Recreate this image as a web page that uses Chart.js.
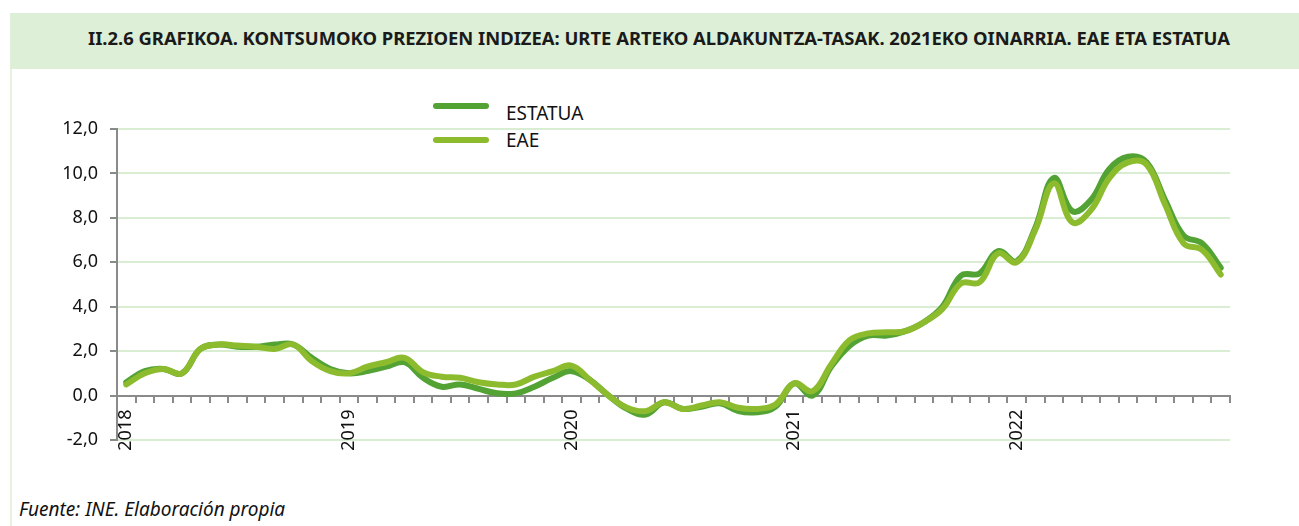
<!DOCTYPE html>
<html>
<head>
<meta charset="utf-8">
<script src="https://cdn.jsdelivr.net/npm/chart.js@4"></script>
<style>
  html, body { margin: 0; padding: 0; background: #fff; }
  #page { position: relative; width: 1299px; height: 526px; overflow: hidden; font-family: "Noto Sans", sans-serif; }
  #band { position: absolute; left: 10px; top: 13px; width: 1289px; height: 56px; background: #ddefd6; }
  #title { position: absolute; left: 0; top: 37px; width: 1318px; text-align: center; transform: translateY(-50%);
           font-weight: bold; color: #1a1a1a; white-space: nowrap; }
  #edge { position: absolute; left: 10px; top: 69px; width: 2px; height: 457px; background: #e6f2dd; }
  .leg-line { position: absolute; left: 433px; width: 56px; height: 6px; border-radius: 3px; }
  .leg-text { position: absolute; left: 506px; font-size: 19px; color: #111; transform: translateY(-50%); }
  #source { position: absolute; left: 19px; top: 509px; transform: translateY(-50%); font-style: italic; font-size: 19px; color: #111; }
  canvas { position: absolute; left: 0; top: 0; }
</style>
</head>
<body>
<div id="page">
  <div id="band"></div>
  <div id="title">II.2.6 GRAFIKOA. KONTSUMOKO PREZIOEN INDIZEA: URTE ARTEKO ALDAKUNTZA-TASAK. 2021EKO OINARRIA. EAE ETA ESTATUA</div>
  <div id="edge"></div>
  <div class="leg-line" style="top:103px; background:#52a234;"></div>
  <div class="leg-text" style="top:113px;">ESTATUA</div>
  <div class="leg-line" style="top:137px; background:#8cbc2e;"></div>
  <div class="leg-text" style="top:140px;">EAE</div>
  <div id="source">Fuente: INE. Elaboración propia</div>
  <canvas id="chart" width="1299" height="526"></canvas>
</div>
<script>
// years shown on the x axis, one category per month
const years = ['2018', '2019', '2020', '2021', '2022'];
const monthsPerYear = 12;

// year-on-year change (%), Jan 2018 .. Dec 2022
const estatua = [
  0.6, 1.1, 1.2, 1.0, 2.1, 2.3, 2.2, 2.2, 2.3, 2.3, 1.7, 1.2,
  1.0, 1.1, 1.3, 1.5, 0.8, 0.4, 0.5, 0.3, 0.1, 0.1, 0.4, 0.8,
  1.1, 0.7, 0.0, -0.6, -0.85, -0.3, -0.6, -0.5, -0.35, -0.7, -0.75, -0.5,
  0.55, 0.0, 1.3, 2.25, 2.7, 2.7, 2.9, 3.3, 4.0, 5.4, 5.5, 6.5,
  6.05, 7.55, 9.8, 8.3, 8.8, 10.2, 10.75, 10.5, 8.8, 7.2, 6.85, 5.75
];
const eae = [
  0.5, 1.0, 1.2, 1.0, 2.1, 2.3, 2.25, 2.2, 2.1, 2.3, 1.55, 1.1,
  1.0, 1.3, 1.5, 1.7, 1.05, 0.85, 0.8, 0.6, 0.5, 0.5, 0.85, 1.1,
  1.35, 0.7, 0.0, -0.55, -0.7, -0.3, -0.6, -0.45, -0.3, -0.55, -0.6, -0.4,
  0.55, 0.2, 1.4, 2.5, 2.8, 2.85, 2.9, 3.3, 3.9, 5.05, 5.1, 6.4,
  6.0, 7.45, 9.55, 7.8, 8.35, 9.8, 10.5, 10.4, 8.6, 6.85, 6.55, 5.45
];

const yMin = -2, yMax = 12, yStep = 2;

const categories = [];
years.forEach(y => {
  for (let m = 1; m <= monthsPerYear; m++) categories.push(y + '-' + m);
});

// fit the title to the width it has in the original
(function fitTitle() {
  const el = document.getElementById('title');
  const ctx = document.createElement('canvas').getContext('2d');
  ctx.font = 'bold 100px "Noto Sans"';
  const w = ctx.measureText(el.textContent).width;
  el.style.fontSize = (100 * 1142 / w).toFixed(2) + 'px';
})();

const tickFont = { family: '"Noto Sans", sans-serif', size: 18 };
const axisGrey = '#8a8a8a';
const gridGreen = '#d9edd3';

new Chart(document.getElementById('chart'), {
  type: 'line',
  data: {
    labels: categories,
    datasets: [
      {
        label: 'ESTATUA',
        data: estatua,
        borderColor: '#52a234',
        borderWidth: 6,
        order: 1
      },
      {
        label: 'EAE',
        data: eae,
        borderColor: '#8cbc2e',
        borderWidth: 6,
        order: 0
      }
    ]
  },
  options: {
    responsive: false,
    animation: false,
    devicePixelRatio: 1,
    elements: {
      point: { radius: 0, hoverRadius: 0 },
      line: { tension: 0.4, borderCapStyle: 'round', borderJoinStyle: 'round', fill: false }
    },
    // x axis sits on the zero line, so it reserves no room at the bottom
    layout: { padding: { left: 17, right: 69, top: 129, bottom: 86 } },
    plugins: {
      legend: { display: false },
      tooltip: { enabled: false }
    },
    scales: {
      x: {
        type: 'category',
        offset: true,
        position: { y: 0 },
        grid: {
          offset: true,
          drawOnChartArea: false,
          tickLength: 6,
          color: axisGrey,
          tickColor: axisGrey,
          lineWidth: 2
        },
        border: { display: true, color: axisGrey, width: 2 },
        ticks: {
          autoSkip: false,
          maxRotation: 90,
          minRotation: 90,
          padding: 8,
          font: tickFont,
          color: '#111',
          callback: (v, i) => (i % monthsPerYear === 0 ? years[i / monthsPerYear] : '')
        }
      },
      y: {
        min: yMin,
        max: yMax,
        ticks: {
          stepSize: yStep,
          padding: 12,
          font: tickFont,
          color: '#111',
          callback: v => v.toFixed(1).replace('.', ',')
        },
        grid: {
          color: ctx => (ctx.tick && ctx.tick.value === 0 ? 'rgba(0,0,0,0)' : gridGreen),
          tickColor: axisGrey,
          tickLength: 7,
          lineWidth: 2
        },
        border: { color: axisGrey, width: 2 },
        afterFit: s => { s.width = 100; }
      }
    }
  }
});
</script>
</body>
</html>
